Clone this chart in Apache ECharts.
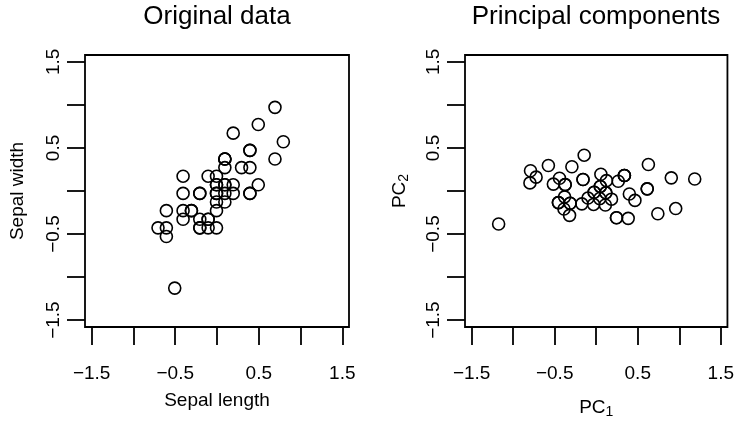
<!DOCTYPE html>
<html>
<head>
<meta charset="utf-8">
<script src="https://cdn.jsdelivr.net/npm/echarts@6/dist/echarts.min.js"></script>
<style>
html, body { margin: 0; padding: 0; background: #fff; }
#chart { width: 737px; height: 424px; }
</style>
</head>
<body>
<div id="chart"></div>
<script>
// iris setosa, centred sepal measurements
const sepalLength = [0.094, -0.106, -0.306, -0.406, -0.006, 0.394, -0.406, -0.006, -0.606, -0.106,
	0.394, -0.206, -0.206, -0.706, 0.794, 0.694, 0.394, 0.094, 0.694, 0.094,
	0.394, 0.094, -0.406, 0.094, -0.206, -0.006, -0.006, 0.194, 0.194, -0.306,
	-0.206, 0.394, 0.194, 0.494, -0.106, -0.006, 0.494, -0.106, -0.606, 0.094,
	-0.006, -0.506, -0.606, -0.006, 0.094, -0.206, 0.094, -0.406, 0.294, -0.006]
const sepalWidth = [0.072, -0.428, -0.228, -0.328, 0.172, 0.472, -0.028, -0.028, -0.528, -0.328,
	0.272, -0.028, -0.428, -0.428, 0.572, 0.972, 0.472, 0.072, 0.372, 0.372,
	-0.028, 0.272, 0.172, -0.128, -0.028, -0.428, -0.028, 0.072, -0.028, -0.228,
	-0.328, -0.028, 0.672, 0.772, -0.328, -0.228, 0.072, 0.172, -0.428, -0.028,
	0.072, -1.128, -0.228, 0.072, 0.372, -0.428, 0.372, -0.228, 0.272, -0.128]
// principal component scores
const pc1 = [0.116, -0.388, -0.374, -0.516, 0.123, 0.614, -0.293, -0.025, -0.798, -0.314,
	0.466, -0.159, -0.455, -0.791, 0.957, 1.186, 0.614, 0.116, 0.742, 0.339,
	0.244, 0.265, -0.145, -0.032, -0.159, -0.321, -0.025, 0.184, 0.110, -0.374,
	-0.381, 0.244, 0.628, 0.904, -0.314, -0.173, 0.385, 0.056, -0.724, 0.042,
	0.049, -1.175, -0.576, 0.049, 0.339, -0.455, 0.339, -0.442, 0.399, -0.099]
const pc2 = [-0.021, -0.209, 0.074, 0.080, 0.120, 0.025, 0.282, -0.014, 0.094, -0.142,
	-0.109, 0.134, -0.135, 0.235, -0.204, 0.139, 0.025, -0.021, -0.264, 0.180,
	-0.311, 0.113, 0.416, -0.156, 0.134, -0.283, -0.014, -0.095, -0.163, 0.074,
	-0.068, -0.311, 0.308, 0.153, -0.142, -0.149, -0.318, 0.194, 0.161, -0.088,
	0.053, -0.383, 0.296, 0.053, 0.180, -0.135, 0.180, 0.148, -0.035, -0.082]

const tickValues = [-1.5, -1, -0.5, 0, 0.5, 1, 1.5]
const labelValues = [-1.5, -0.5, 0.5, 1.5]

const font = "'Liberation Sans', Arial, Helvetica, sans-serif"
const black = "#000"

const chart = echarts.init(document.getElementById("chart"))

const fmt = v => String(v).replace("-", "\u2212")

function makeAxis(gridIndex, isX, name, gap, subLine) {
	return {
		type: "value",
		gridIndex: gridIndex,
		min: -1.58,
		max: 1.58,
		position: isX ? "bottom" : "left",
		name: name,
		nameLocation: "middle",
		nameGap: gap,
		nameTextStyle: {
			fontFamily: font,
			fontSize: 19,
			color: black,
			rich: {
				m: { fontFamily: font, fontSize: 19, lineHeight: 22, color: black },
				s: { fontFamily: font, fontSize: 14, lineHeight: subLine, verticalAlign: "bottom", color: black }
			}
		},
		axisLine: { show: false, onZero: false },
		axisTick: {
			show: true,
			inside: false,
			length: 18,
			customValues: tickValues,
			lineStyle: { color: black, width: 1.8 }
		},
		axisLabel: {
			show: true,
			customValues: labelValues,
			rotate: isX ? 0 : 90,
			margin: isX ? 37 : 22,
			fontFamily: font,
			fontSize: 19,
			color: black,
			formatter: fmt
		},
		splitLine: { show: false }
	}
}

const pointStyle = { color: "transparent", borderColor: black, borderWidth: 1.6, opacity: 1 }

const option = {
	animation: false,
	backgroundColor: "#fff",
	title: [
		{
			text: "Original data",
			left: 217,
			top: 4,
			textAlign: "center",
			padding: 0,
			textStyle: { fontFamily: font, fontSize: 26, fontWeight: "normal", color: black }
		},
		{
			text: "Principal components",
			left: 596,
			top: 4,
			textAlign: "center",
			padding: 0,
			textStyle: { fontFamily: font, fontSize: 26, fontWeight: "normal", color: black }
		}
	],
	grid: [
		{ left: 85, top: 55, width: 264, height: 272, show: true, borderColor: black, borderWidth: 1.8, backgroundColor: "transparent" },
		{ left: 465, top: 55, width: 264, height: 272, show: true, borderColor: black, borderWidth: 1.8, backgroundColor: "transparent" }
	],
	xAxis: [
		makeAxis(0, true, "Sepal length", 64, 14),
		makeAxis(1, true, "{m|PC}{s|1}", 70, 14)
	],
	yAxis: [
		makeAxis(0, false, "Sepal width", 58, 14),
		makeAxis(1, false, "{m|PC}{s|2}", 54, 17)
	],
	series: [
		{
			name: "Original data",
			type: "scatter",
			xAxisIndex: 0,
			yAxisIndex: 0,
			symbol: "circle",
			symbolSize: 12,
			itemStyle: pointStyle,
			emphasis: { disabled: true },
			data: sepalLength.map((v, i) => [v, sepalWidth[i]])
		},
		{
			name: "Principal components",
			type: "scatter",
			xAxisIndex: 1,
			yAxisIndex: 1,
			symbol: "circle",
			symbolSize: 12,
			itemStyle: pointStyle,
			emphasis: { disabled: true },
			data: pc1.map((v, i) => [v, pc2[i]])
		}
	]
}

chart.setOption(option)
</script>
</body>
</html>
